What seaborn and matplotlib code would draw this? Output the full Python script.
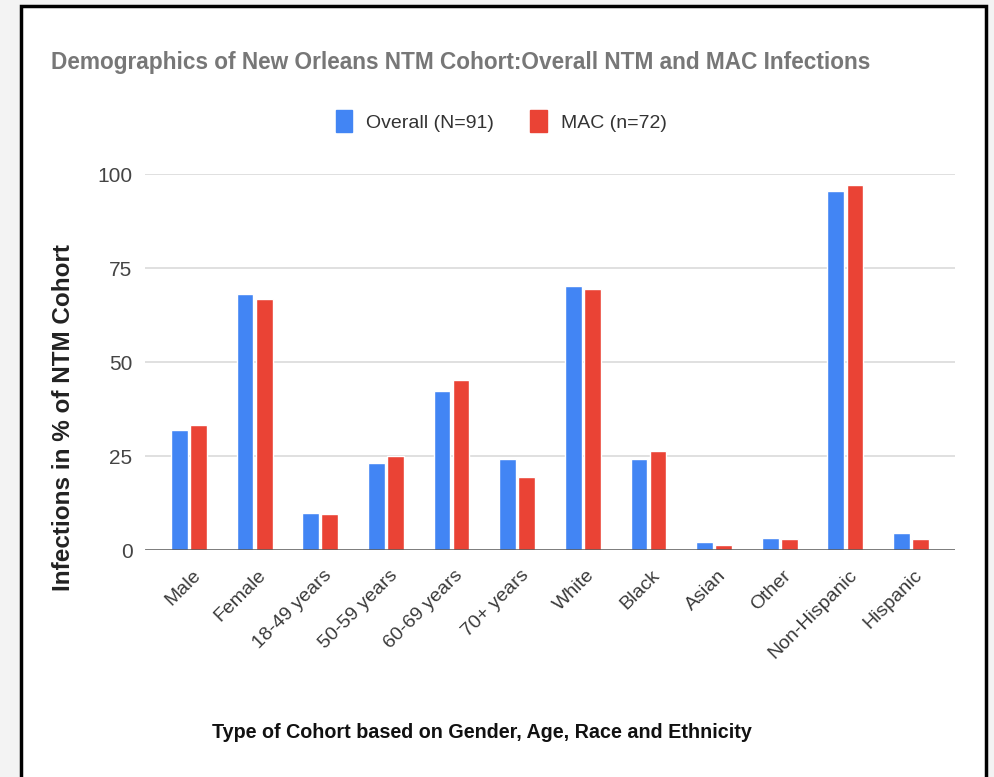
import matplotlib
matplotlib.use("Agg")
import matplotlib.pyplot as plt
import matplotlib.patches as mpatches
import matplotlib.transforms as mtransforms
import seaborn as sns
import pandas as pd

categories = ["Male", "Female", "18-49 years", "50-59 years", "60-69 years", "70+ years",
              "White", "Black", "Asian", "Other", "Non-Hispanic", "Hispanic"]
overall = [31.9, 68.1, 9.9, 23.1, 42.4, 24.2, 70.3, 24.2, 2.2, 3.3, 95.6, 4.4]
mac = [33.3, 66.7, 9.7, 25.0, 45.2, 19.4, 69.4, 26.4, 1.4, 2.8, 97.2, 2.8]
series_names = ["Overall (N=91)", "MAC (n=72)"]
yticks = [0, 25, 50, 75, 100]

title = "Demographics of New Orleans NTM Cohort:Overall NTM and MAC Infections"
ylabel = "Infections in % of NTM Cohort"
xlabel = "Type of Cohort based on Gender, Age, Race and Ethnicity"

df = pd.DataFrame({
    "category": categories * 2,
    "value": overall + mac,
    "series": [series_names[0]] * len(categories) + [series_names[1]] * len(categories),
})

sns.set_theme(style="white")
fam = ["Liberation Sans", "DejaVu Sans"]
plt.rcParams["font.family"] = fam

W, H = 995, 777
fig = plt.figure(figsize=(W / 100, H / 100), dpi=100)
fig.patch.set_facecolor("#f3f3f3")
frame = mpatches.Rectangle((21 / W, -0.02), (986 - 21) / W, 1.02 - 6 / H,
                           transform=fig.transFigure, facecolor="white",
                           edgecolor="black", linewidth=2.5, zorder=-5)
fig.patches.append(frame)

ax = fig.add_axes([145 / W, 1 - 550 / H, 810 / W, (550 - 174.3) / H])
ax.set_zorder(2)
ax.set_facecolor("none")
palette = {series_names[0]: "#4285F4", series_names[1]: "#EA4335"}
sns.barplot(data=df, x="category", y="value", hue="series", order=categories,
            hue_order=series_names, palette=palette, width=0.58, gap=0.12,
            saturation=1, ax=ax, legend=False, zorder=3)

ax.set_ylim(0, 100)
ax.set_xlim(-0.67, 11.67)
ax.set_yticks(yticks)
for y in yticks[1:]:
    ax.axhline(y, color="#dadada", lw=1.2, zorder=1)
ax.axhline(0, color="#555555", lw=1.8, zorder=4)
for s in ax.spines.values():
    s.set_visible(False)
ax.tick_params(axis="both", length=0)
ax.tick_params(axis="y", pad=9, labelsize=15, labelcolor="#444444")
ax.set_xlabel("")
ax.set_ylabel("")
ax.set_xticks(range(len(categories)))
ax.set_xticklabels(categories, rotation=45, ha="right", va="center",
                   rotation_mode="anchor", fontsize=14, color="#3a3a3a")
offset = mtransforms.ScaledTranslation(9 / 100, -18 / 100, fig.dpi_scale_trans)
for lab in ax.get_xticklabels():
    lab.set_transform(lab.get_transform() + offset)

fig.text(461 / W, 1 - 62 / H, title, ha="center", va="center", fontsize=16.3,
         fontweight="bold", color="#777777")
fig.text(64 / W, 1 - 418 / H, ylabel, ha="center", va="center", rotation=90,
         fontsize=17.5, fontweight="bold", color="#222222")
fig.text(482 / W, 1 - 733 / H, xlabel, ha="center", va="center", fontsize=14.2,
         fontweight="bold", color="#111111")

handles = [mpatches.Patch(color=palette[s], label=s) for s in series_names]
leg = fig.legend(handles=handles, loc="center", bbox_to_anchor=(501 / W, 1 - 121 / H),
                 ncol=2, frameon=False, fontsize=14, handlelength=0.85, handleheight=1.3,
                 handletextpad=0.7, columnspacing=1.9)
for t in leg.get_texts():
    t.set_color("#333333")

fig.savefig("out.png", dpi=100, facecolor=fig.get_facecolor())
